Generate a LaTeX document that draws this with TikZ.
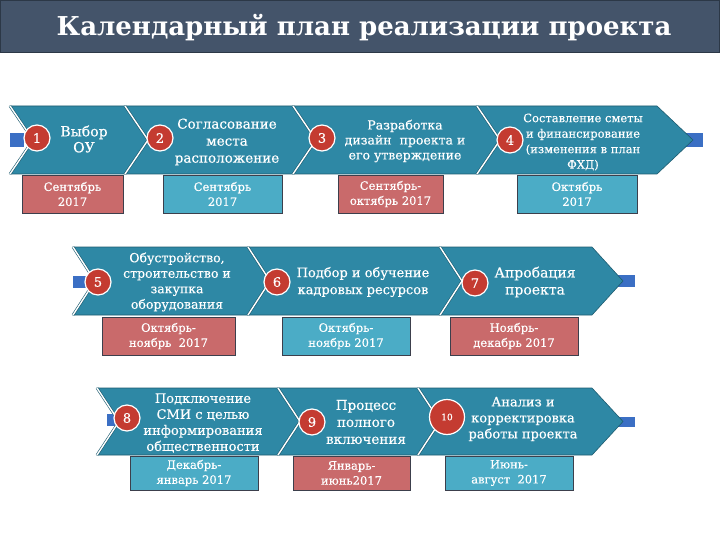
\documentclass[tikz,border=0pt]{standalone}
\usepackage{fontspec}
\setmainfont{DejaVu Serif}
\newfontfamily\heavyserif{DejaVu Serif}[FakeBold=0.35]
\definecolor{bannerfill}{HTML}{44546A}
\definecolor{bannerline}{HTML}{2C3847}
\definecolor{chevfill}{HTML}{2E88A5}
\definecolor{chevline}{HTML}{1E5C70}
\definecolor{dotred}{HTML}{C43B31}
\definecolor{datered}{HTML}{C96A6B}
\definecolor{dateblue}{HTML}{4BACC6}
\definecolor{barblue}{HTML}{3B6FC4}
\definecolor{boxline}{HTML}{3C3F4C}
\newcommand\mkchev[6]{%
 \pgfmathsetmacro\cmid{(#3+#4)/2}%
 \fill[chevfill,draw=chevline,line width=0.6pt] (#1,#3) -- (#2,#3) -- ({#2+#6},\cmid) -- (#2,#4) -- (#1,#4) -- ({#1+#5},\cmid) -- cycle;
 \draw[chevline,line width=2.6pt] (#1,#3) -- ({#1+#5},\cmid) -- (#1,#4);
 \draw[white,line width=1.4pt] (#1,#3) -- ({#1+#5},\cmid) -- (#1,#4);
}
\tikzset{
 numdot/.style={circle,fill=dotred,draw=white,line width=1.2pt,minimum size=26pt,inner sep=0pt,text=white,font=\heavyserif\fontsize{13}{13}\selectfont},
 chevtext/.style={text=white,align=center,inner sep=0pt},
 datebox/.style={draw=boxline,line width=0.8pt,text=white,align=center,inner sep=0pt,font=\heavyserif\fontsize{11.5}{15}\selectfont},
}
\begin{document}
\begin{tikzpicture}[x=1pt,y=-1pt]
\useasboundingbox (0,0) rectangle (720,540);
\fill[white] (0,0) rectangle (720,540);
% banner
\fill[bannerfill,draw=bannerline,line width=1pt] (0.5,0.5) rectangle (719.5,53);
\node[text=white,font=\fontsize{26}{26}\selectfont\bfseries] (title) at (364,28) {Календарный план реализации проекта};

% ---------- row 1 ----------
\fill[barblue] (10,133) rectangle (24,147);
\fill[barblue] (673,133) rectangle (703,147);
\mkchev{10}{125}{106}{174}{23}{23}
\mkchev{125}{293}{106}{174}{23}{23}
\mkchev{293}{477}{106}{174}{23}{23}
\mkchev{477}{657}{106}{174}{23}{36}
\node[numdot] (c1) at (37,138) {1};
\node[numdot] (c2) at (160,138) {2};
\node[numdot] (c3) at (322,138) {3};
\node[numdot] (c4) at (510,140) {4};
\node[chevtext,font=\heavyserif\fontsize{14}{16}\selectfont] (t1) at (84,139) {Выбор\\ОУ};
\node[chevtext,font=\heavyserif\fontsize{13.5}{17}\selectfont] (t2) at (227,142) {Согласование\\места\\расположение};
\node[chevtext,font=\heavyserif\fontsize{12.5}{15}\selectfont] (t3) at (405,141) {Разработка\\дизайн~ проекта и\\его утверждение};
\node[chevtext,font=\heavyserif\fontsize{11.5}{15.5}\selectfont] (t4) at (583,142) {Составление сметы\\и финансирование\\(изменения в план\\ФХД)};
\node[datebox,fill=datered,minimum width=101pt,minimum height=38pt] (d1) at (72.5,194) {Сентябрь\\2017};
\node[datebox,fill=dateblue,minimum width=119pt,minimum height=38pt] (d2) at (222.5,194) {Сентябрь\\2017};
\node[datebox,fill=datered,minimum width=105pt,minimum height=38pt] (d3) at (390.5,194) {Сентябрь-\\октябрь 2017};
\node[datebox,fill=dateblue,minimum width=120pt,minimum height=38pt] (d4) at (577,194) {Октябрь\\2017};

% ---------- row 2 ----------
\fill[barblue] (73,276) rectangle (86,288);
\fill[barblue] (615,275) rectangle (635,287);
\mkchev{73}{248}{247}{315}{22}{21}
\mkchev{248}{440}{247}{315}{22}{22}
\mkchev{440}{592}{247}{315}{22}{31}
\node[numdot] (c5) at (98,282) {5};
\node[numdot] (c6) at (277,282) {6};
\node[numdot] (c7) at (475,283) {7};
\node[chevtext,font=\heavyserif\fontsize{12.5}{15.5}\selectfont] (t5) at (177,282) {Обустройство,\\строительство и\\закупка\\оборудования};
\node[chevtext,font=\heavyserif\fontsize{13}{17}\selectfont] (t6) at (363,282) {Подбор и обучение\\кадровых ресурсов};
\node[chevtext,font=\heavyserif\fontsize{14}{17}\selectfont] (t7) at (535,282) {Апробация\\проекта};
\node[datebox,fill=datered,minimum width=133pt,minimum height=38pt] (d5) at (168.5,336) {Октябрь-\\ноябрь~ 2017};
\node[datebox,fill=dateblue,minimum width=128pt,minimum height=38pt] (d6) at (346,336) {Октябрь-\\ноябрь 2017};
\node[datebox,fill=datered,minimum width=128pt,minimum height=38pt] (d7) at (514,336) {Ноябрь-\\декабрь 2017};

% ---------- row 3 ----------
\fill[barblue] (107,414) rectangle (120,426);
\fill[barblue] (615,417) rectangle (635,427);
\mkchev{97}{278}{388}{455}{22}{22}
\mkchev{278}{418}{388}{455}{22}{22}
\mkchev{418}{592}{388}{455}{22}{31}
\node[numdot] (c8) at (127,418) {8};
\node[numdot] (c9) at (312,422) {9};
\node[numdot,minimum size=35pt,font=\heavyserif\fontsize{9}{9}\selectfont] (c10) at (447,417) {10};
\node[chevtext,font=\heavyserif\fontsize{13}{16}\selectfont] (t8) at (203,423) {Подключение\\СМИ с целью\\информирования\\общественности};
\node[chevtext,font=\heavyserif\fontsize{13.5}{17}\selectfont] (t9) at (366,422) {Процесс\\полного\\включения};
\node[chevtext,font=\heavyserif\fontsize{13}{16}\selectfont] (t10) at (523,419) {Анализ и\\корректировка\\работы проекта};
\node[datebox,fill=dateblue,minimum width=128pt,minimum height=34pt] (d8) at (194,473) {Декабрь-\\январь 2017};
\node[datebox,fill=datered,minimum width=117pt,minimum height=34pt] (d9) at (351.5,473) {Январь-\\июнь2017};
\node[datebox,fill=dateblue,minimum width=128pt,minimum height=34pt] (d10) at (509,473) {Июнь-\\август~ 2017};
\end{tikzpicture}
\end{document}
